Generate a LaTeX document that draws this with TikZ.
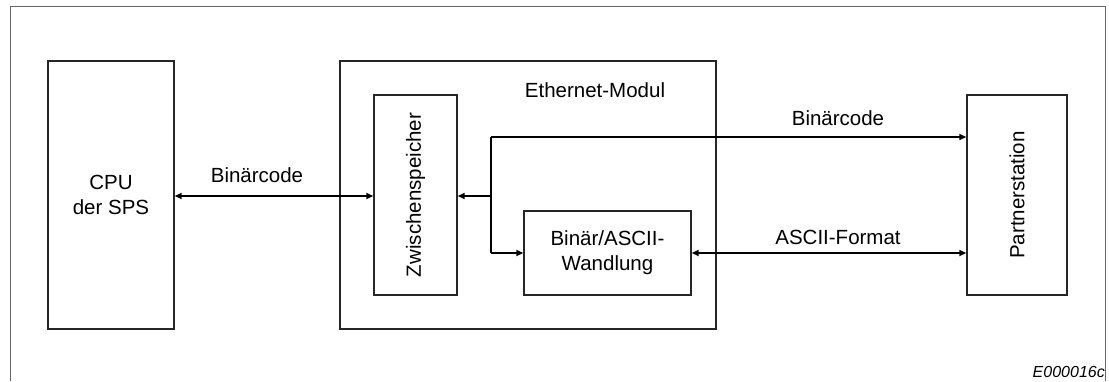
\documentclass[tikz,border=0pt]{standalone}
\usepackage{fontspec}
\setmainfont{Liberation Sans}
\usetikzlibrary{arrows.meta}
\begin{document}
\begin{tikzpicture}[x=1pt,y=-1pt,
  box/.style={draw=black!85,line width=1.4pt,inner sep=0pt},
  conn/.style={line width=1.7pt,draw=black},
  tip/.style={-{Stealth[length=7pt,width=6pt,inset=0pt]}},
  bitip/.style={{Stealth[length=7pt,width=6pt,inset=0pt]}-{Stealth[length=7pt,width=6pt,inset=0pt]}},
  lbl/.style={font=\fontsize{20.5}{25}\selectfont,align=center,inner sep=0pt}]
\useasboundingbox (0,0) rectangle (1109,381);
% frame
\draw[line width=1pt,draw=black!60] (10,381) -- (10,6.5) -- (1105,6.5) -- (1105,381);
% boxes
\node[box,minimum width=126pt,minimum height=268pt] (cpu) at (111,195) {};
\node[lbl] at (cpu.center) {CPU\\der SPS};
\node[box,minimum width=376pt,minimum height=268pt] (eth) at (528,195) {};
\node[lbl] (ethl) at (595,90) {Ethernet-Modul};
\node[box,minimum width=83pt,minimum height=200pt] (zw) at (415.5,195) {};
\node[lbl,rotate=90] at (zw.center) {Zwischenspeicher};
\node[box,minimum width=167pt,minimum height=84pt] (bin) at (607.5,253) {};
\node[lbl] at (bin.center) {Binär/ASCII-\\Wandlung};
\node[box,minimum width=100pt,minimum height=200pt] (ps) at (1017,195) {};
\node[lbl,rotate=90] at (ps.center) {Partnerstation};
% connectors
\coordinate (j) at (491,196);
\coordinate (jt) at (491,137);
\coordinate (jb) at (491,253);
\draw[conn,bitip] (cpu.east |- j) -- (zw.west |- j);
\node[lbl] at (257,175) {Binärcode};
\draw[conn,tip] (jt) -- (ps.west |- jt);
\node[lbl] at (838,118) {Binärcode};
\draw[conn,tip] (j) -- (zw.east |- j);
\draw[conn] (jt) -- (jb);
\draw[conn,tip] (jb) -- (bin.west |- jb);
\draw[conn,bitip] (bin.east) -- (ps.west |- bin.east);
\node[lbl] at (838,237) {ASCII-Format};
\node[font=\fontsize{16}{19}\selectfont\itshape,anchor=east,inner sep=0pt] at (1105,372) {E000016c};
\end{tikzpicture}
\end{document}
